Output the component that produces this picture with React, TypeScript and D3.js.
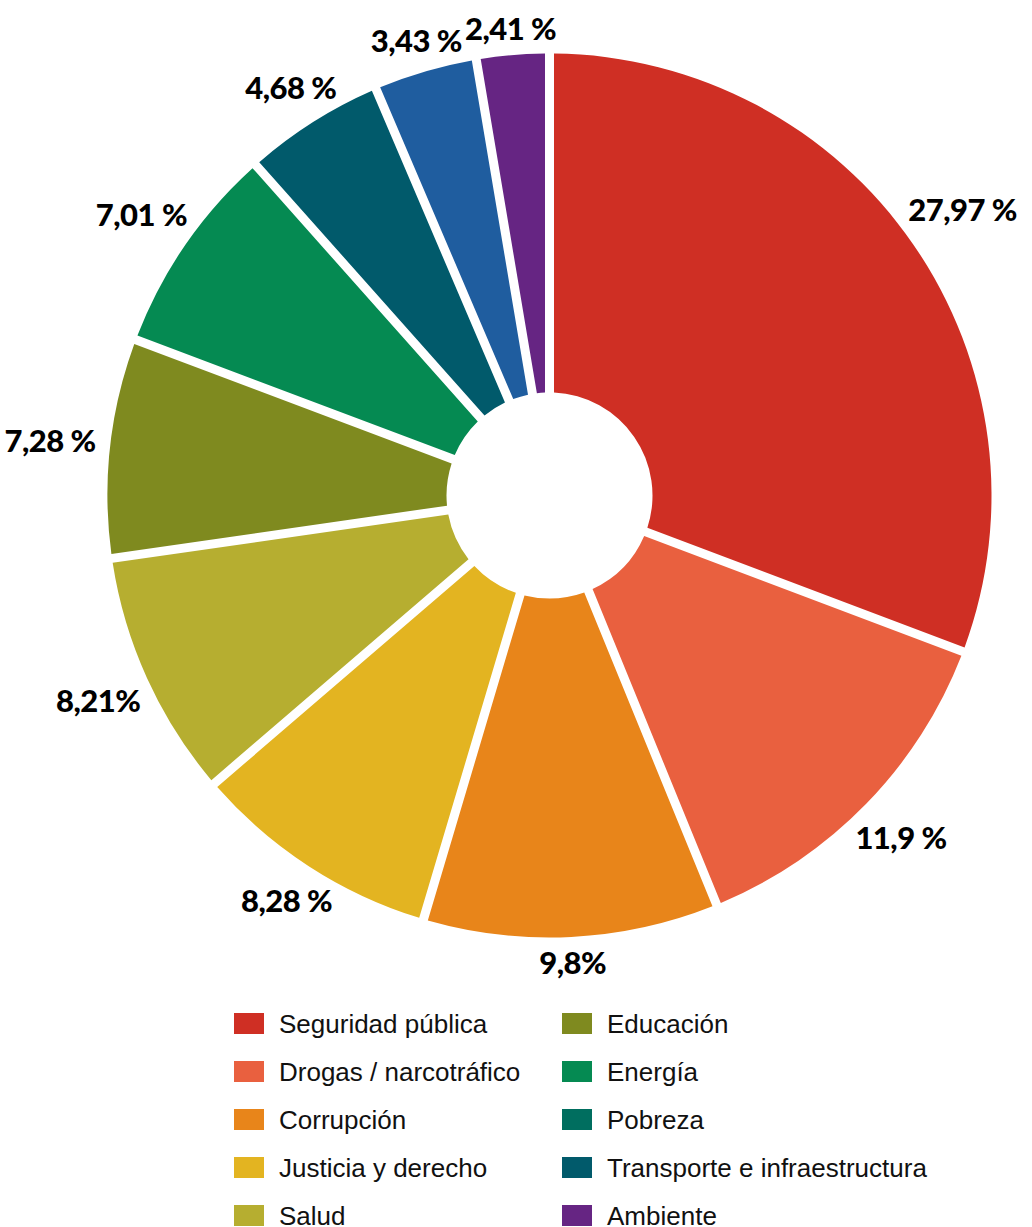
import React, { useRef, useEffect } from 'react';
import * as d3 from 'd3';

// slices, clockwise from 12 o'clock
const sliceNames = [
  'Seguridad pública',
  'Drogas / narcotráfico',
  'Corrupción',
  'Justicia y derecho',
  'Salud',
  'Educación',
  'Energía',
  'Transporte e infraestructura',
  'Otro',
  'Ambiente',
];
const sliceValues = [27.97, 11.9, 9.8, 8.28, 8.21, 7.28, 7.01, 4.68, 3.43, 2.41];
const sliceLabels = ['27,97 %', '11,9 %', '9,8%', '8,28 %', '8,21%', '7,28 %', '7,01 %', '4,68 %', '3,43 %', '2,41 %'];
const sliceColors = [
  '#cf2f24',
  '#e9603f',
  '#e8851a',
  '#e3b421',
  '#b6ae30',
  '#7f8a1f',
  '#058a52',
  '#015a6b',
  '#1f5d9f',
  '#662583',
];

// legend (two columns of five)
const legendNames = [
  'Seguridad pública',
  'Drogas / narcotráfico',
  'Corrupción',
  'Justicia y derecho',
  'Salud',
  'Educación',
  'Energía',
  'Pobreza',
  'Transporte e infraestructura',
  'Ambiente',
];
const legendColors = [
  '#cf2f24',
  '#e9603f',
  '#e8851a',
  '#e3b421',
  '#b6ae30',
  '#7f8a1f',
  '#058a52',
  '#006e5f',
  '#015a6b',
  '#662583',
];

const width = 1032;
const height = 1227;

const App = () => {
  const ref = useRef<SVGSVGElement | null>(null);

  useEffect(() => {
    if (!ref.current) return;
    const svg = d3.select(ref.current);
    svg.selectAll('*').remove();

    const cx = 549.5;
    const cy = 495.5;
    const outer = 442;
    const inner = 103;
    const gap = 9;

    const data = sliceValues.map((v, i) => ({
      name: sliceNames[i],
      value: v,
      label: sliceLabels[i],
      color: sliceColors[i],
    }));

    // proportional angles; the white gaps are cut out of each slice
    const pie = d3
      .pie<any>()
      .sort(null)
      .value((d) => d.value);

    const arc = d3
      .arc<any>()
      .innerRadius(inner)
      .outerRadius(outer)
      .padAngle(gap / outer)
      .padRadius(outer);

    const arcs = pie(data);

    const g = svg.append('g').attr('transform', `translate(${cx},${cy})`);

    g.selectAll('path')
      .data(arcs)
      .join('path')
      .attr('d', arc)
      .attr('fill', (d) => d.data.color);

    const fontSize = 31;
    const capH = fontSize * 0.72;

    arcs.forEach((d) => {
      const a = (d.startAngle + d.endAngle) / 2;
      const t = g
        .append('text')
        .attr('text-anchor', 'middle')
        .attr('font-family', 'Lato, "Open Sans", sans-serif')
        .attr('font-weight', 900)
        .attr('font-size', fontSize)
        .attr('letter-spacing', -0.5)
        .attr('fill', '#000')
        .text(d.data.label);
      const bb = (t.node() as SVGTextElement).getBBox();
      const ex = (bb.width / 2) * Math.sin(a);
      const ey = (capH / 2) * Math.cos(a);
      const r = outer + 15 + Math.sqrt(ex * ex + ey * ey);
      const x = r * Math.sin(a);
      const y = -r * Math.cos(a);
      t.attr('x', x).attr('y', y + capH / 2);
    });

    const legend = svg.append('g').attr('font-family', '"Liberation Sans", Arial, Helvetica, sans-serif');
    const colX = [234, 562];
    legendNames.forEach((name, i) => {
      const col = Math.floor(i / 5);
      const row = i % 5;
      const y0 = 1013 + row * 48;
      legend
        .append('rect')
        .attr('x', colX[col])
        .attr('y', y0)
        .attr('width', 30)
        .attr('height', 21)
        .attr('fill', legendColors[i]);
      legend
        .append('text')
        .attr('x', colX[col] + 45)
        .attr('y', y0 + 20)
        .attr('font-size', 26)
        .attr('fill', '#111')
        .text(name);
    });
  });

  return (
    <svg
      ref={ref}
      width={width}
      height={height}
      viewBox={`0 0 ${width} ${height}`}
      style={{ position: 'absolute', left: 0, top: 0, background: '#fff' }}
    />
  );
};

export default App;
